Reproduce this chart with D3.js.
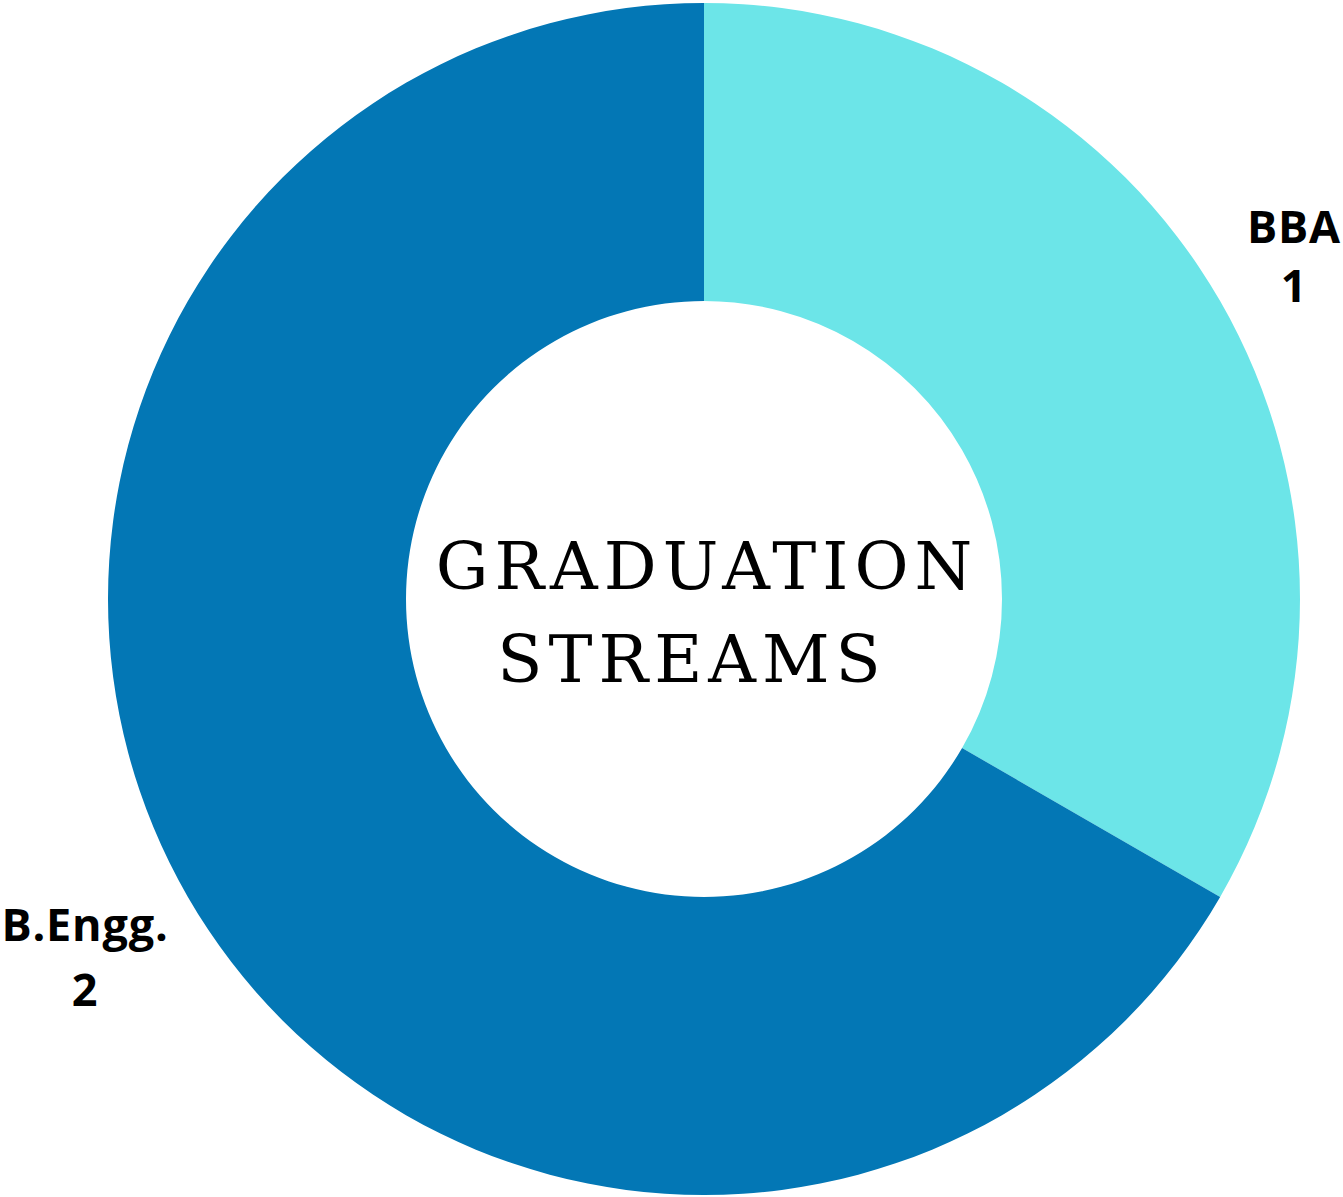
<!DOCTYPE html>
<html>
<head>
<meta charset="utf-8">
<script src="https://cdn.jsdelivr.net/npm/d3@7"></script>
<style>
  body { margin: 0; background: #fff; }
  .lbl { font-family: "Open Sans", sans-serif; font-weight: 700; font-size: 45px; fill: #000; letter-spacing: 0.8px; }
  .title { font-family: "DejaVu Serif", serif; font-size: 66px; fill: #000; letter-spacing: 6px; }
</style>
</head>
<body>
<div id="chart"></div>
<script>
// 数据
const streams = ["BBA", "B.Engg."];
const counts = [1, 2];
const colors = ["#6ce5e8", "#0377b5"];
const titleLines = ["GRADUATION", "STREAMS"];

const width = 1343, height = 1197;
const cx = 704, cy = 599;
const outerR = 596, innerR = 298;

const svg = d3.select("#chart").append("svg")
  .attr("width", width)
  .attr("height", height);

const g = svg.append("g").attr("transform", `translate(${cx},${cy})`);

const data = streams.map((s, i) => ({name: s, value: counts[i], color: colors[i]}));

const pie = d3.pie().sort(null).value(d => d.value);
const arc = d3.arc().innerRadius(innerR).outerRadius(outerR);

g.selectAll("path.slice")
  .data(pie(data))
  .join("path")
  .attr("class", "slice")
  .attr("d", arc)
  .attr("fill", d => d.data.color);

// 标签位置（手动对齐参考图）
const labelPos = [
  {x: 1294 - cx, y: 243 - cy, gap: 59},
  {x: 85 - cx, y: 941 - cy, gap: 65}
];

pie(data).forEach((d, i) => {
  const t = g.append("text")
    .attr("class", "lbl")
    .attr("text-anchor", "middle")
    .attr("x", labelPos[i].x)
    .attr("y", labelPos[i].y);
  t.append("tspan").attr("x", labelPos[i].x).text(d.data.name);
  t.append("tspan").attr("x", labelPos[i].x).attr("dy", labelPos[i].gap).text(d.data.value);
});

// 中间标题
const titleX = [3, -12];
titleLines.forEach((line, i) => {
  g.append("text")
    .attr("class", "title")
    .attr("text-anchor", "middle")
    .attr("x", titleX[i])
    .attr("y", 589 - cy + i * 93)
    .text(line);
});
</script>
</body>
</html>
